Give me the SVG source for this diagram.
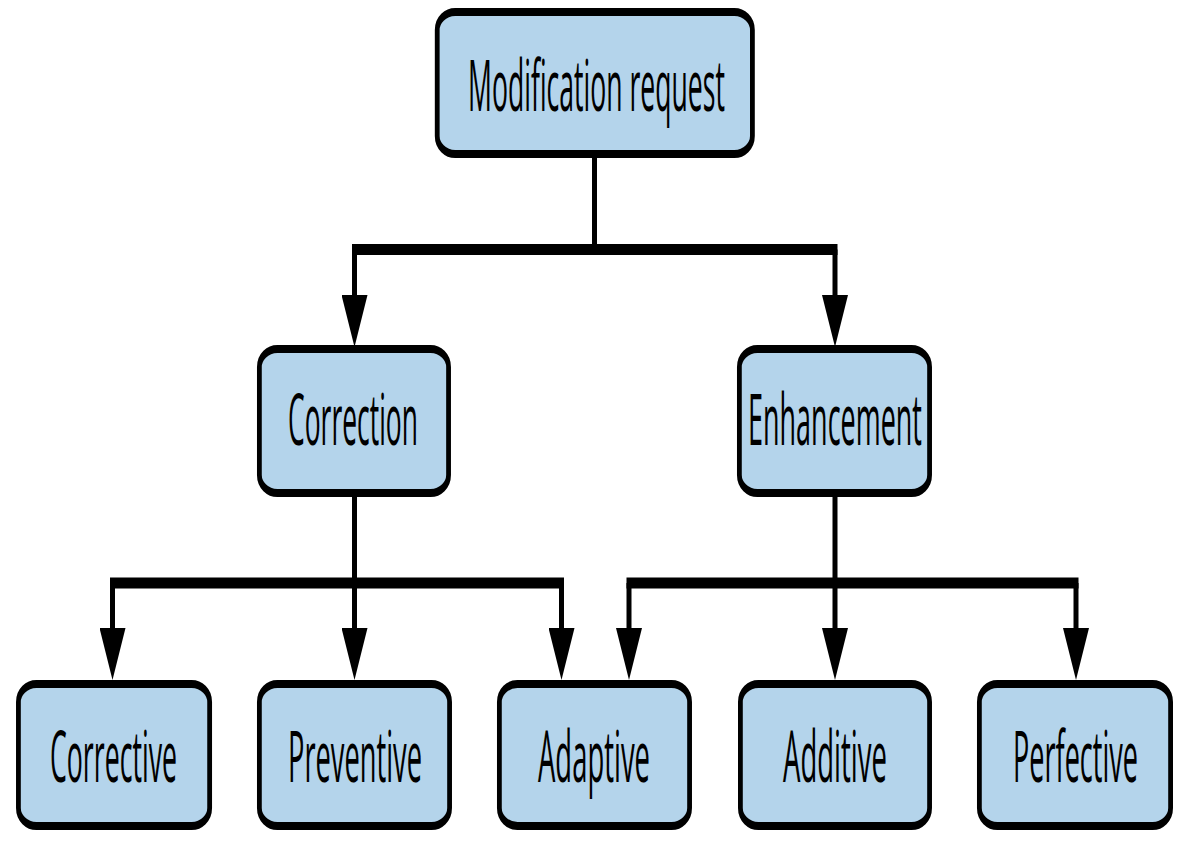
<svg xmlns="http://www.w3.org/2000/svg" width="1190" height="853" viewBox="0 0 1190 853">
<style>
.box{fill:#b4d4eb;stroke:#000;stroke-width:8}
.lbl{font-family:"Open Sans","Liberation Sans",sans-serif;font-size:72px;fill:#000;text-anchor:middle}
.h{stroke:#000;stroke-width:11;fill:none}
.v{stroke:#000;stroke-width:5;fill:none}
.va{stroke:#000;stroke-width:5;fill:none;marker-end:url(#arr)}
</style>
<defs>
<marker id="arr" markerUnits="userSpaceOnUse" markerWidth="52" markerHeight="26" viewBox="0 -13 52 26" refX="0" refY="0" orient="auto">
<polygon points="0,-13 52,0 0,13" fill="#000"/>
</marker>
</defs>
<rect width="1190" height="853" fill="#fff"/>
<g id="connectors">
<path class="v" d="M594.5,158V249.5"/>
<path class="h" d="M352,249.5H837.5"/>
<path class="va" d="M354.5,249.5V295"/>
<path class="va" d="M835,249.5V295"/>
<path class="h" d="M110,583H564"/>
<path class="h" d="M626.5,583H1078.5"/>
<path class="va" d="M354.5,497V628"/>
<path class="va" d="M112.5,583V628"/>
<path class="va" d="M561.5,583V628"/>
<path class="va" d="M835,497V628"/>
<path class="va" d="M629,583V628"/>
<path class="va" d="M1076,583V628"/>
</g>
<g id="modification-request">
<rect class="box" transform="scale(0.6,1)" x="728.7" y="12" width="525.3" height="142" rx="30" ry="18"/>
<text class="lbl" transform="translate(596.5,111) scale(0.35,1)" textLength="734" lengthAdjust="spacingAndGlyphs">Modification request</text>
</g>
<g id="correction">
<rect class="box" transform="scale(0.6,1)" x="432.3" y="349" width="315.3" height="144" rx="30" ry="18"/>
<text class="lbl" transform="translate(353,445) scale(0.35,1)" textLength="371" lengthAdjust="spacingAndGlyphs">Correction</text>
</g>
<g id="enhancement">
<rect class="box" transform="scale(0.6,1)" x="1232.3" y="349" width="317" height="144" rx="30" ry="18"/>
<text class="lbl" transform="translate(835,445) scale(0.35,1)" textLength="497" lengthAdjust="spacingAndGlyphs">Enhancement</text>
</g>
<g id="corrective">
<rect class="box" transform="scale(0.6,1)" x="30.7" y="684" width="318.7" height="142" rx="30" ry="18"/>
<text class="lbl" transform="translate(113.5,782) scale(0.35,1)" textLength="363" lengthAdjust="spacingAndGlyphs">Corrective</text>
</g>
<g id="preventive">
<rect class="box" transform="scale(0.6,1)" x="432.3" y="684" width="317" height="142" rx="30" ry="18"/>
<text class="lbl" transform="translate(355,782) scale(0.35,1)" textLength="383" lengthAdjust="spacingAndGlyphs">Preventive</text>
</g>
<g id="adaptive">
<rect class="box" transform="scale(0.6,1)" x="832.3" y="684" width="317" height="142" rx="30" ry="18"/>
<text class="lbl" transform="translate(594,782) scale(0.35,1)" textLength="320" lengthAdjust="spacingAndGlyphs">Adaptive</text>
</g>
<g id="additive">
<rect class="box" transform="scale(0.6,1)" x="1234" y="684" width="315.3" height="142" rx="30" ry="18"/>
<text class="lbl" transform="translate(835,782) scale(0.35,1)" textLength="297" lengthAdjust="spacingAndGlyphs">Additive</text>
</g>
<g id="perfective">
<rect class="box" transform="scale(0.6,1)" x="1632.3" y="684" width="318.7" height="142" rx="30" ry="18"/>
<text class="lbl" transform="translate(1075.5,782) scale(0.35,1)" textLength="357" lengthAdjust="spacingAndGlyphs">Perfective</text>
</g>
</svg>
